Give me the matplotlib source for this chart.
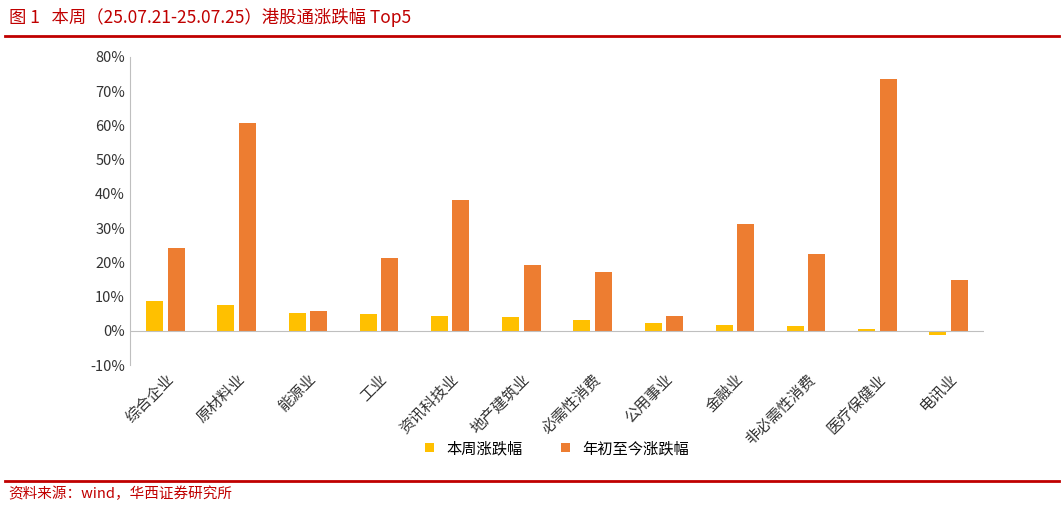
import matplotlib.pyplot as plt
import numpy as np

plt.rcParams['font.family'] = ['Noto Sans CJK SC', 'DejaVu Sans']

categories = ["综合企业", "原材料业", "能源业", "工业", "资讯科技业", "地产建筑业",
              "必需性消费", "公用事业", "金融业", "非必需性消费", "医疗保健业", "电讯业"]
week = [8.8, 7.5, 5.3, 4.9, 4.5, 4.1, 3.2, 2.3, 1.8, 1.4, 0.5, -1.2]
ytd = [24.3, 60.7, 5.8, 21.2, 38.2, 19.4, 17.2, 4.4, 31.2, 22.4, 73.5, 15.0]

fig = plt.figure(figsize=(10.64, 5.08), dpi=100)
ax = fig.add_axes([0.122, 0.281, 0.803, 0.607])

x = np.arange(len(categories))
w = 0.24
ax.bar(x - 0.15, week, w, color="#FFC000", label="本周涨跌幅")
ax.bar(x + 0.15, ytd, w, color="#ED7D31", label="年初至今涨跌幅")

ax.set_ylim(-10, 80)
ax.set_xlim(-0.5, len(categories) - 0.5)
ax.set_yticks(range(-10, 81, 10))
ax.set_yticklabels([f"{v}%" for v in range(-10, 81, 10)], fontsize=10.5, color="#333333")
ax.set_xticks(x)
ax.set_xticklabels(categories, rotation=45, ha="right", rotation_mode="anchor", fontsize=11, color="#333333")
ax.tick_params(axis="x", length=0, pad=4)
ax.tick_params(axis="y", length=0)
for s in ["top", "right", "bottom"]:
    ax.spines[s].set_visible(False)
ax.spines["left"].set_color("#BFBFBF")
ax.axhline(0, color="#BFBFBF", linewidth=0.8)

ax.legend(loc="center", bbox_to_anchor=(0.5, -0.27), ncol=2, frameon=False,
          fontsize=11, handlelength=0.6, handleheight=0.6, columnspacing=2.5)

fig.text(0.008, 0.965, "图 1   本周（25.07.21-25.07.25）港股通涨跌幅 Top5", fontsize=12.5,
         color="#C00000", va="center")
fig.add_artist(plt.Line2D([0.005, 0.995], [0.93, 0.93], color="#C00000", linewidth=2))
fig.add_artist(plt.Line2D([0.005, 0.995], [0.053, 0.053], color="#C00000", linewidth=2))
fig.text(0.008, 0.027, "资料来源：wind，华西证券研究所", fontsize=10.5, color="#C00000", va="center")

fig.savefig("out.png", dpi=100)
